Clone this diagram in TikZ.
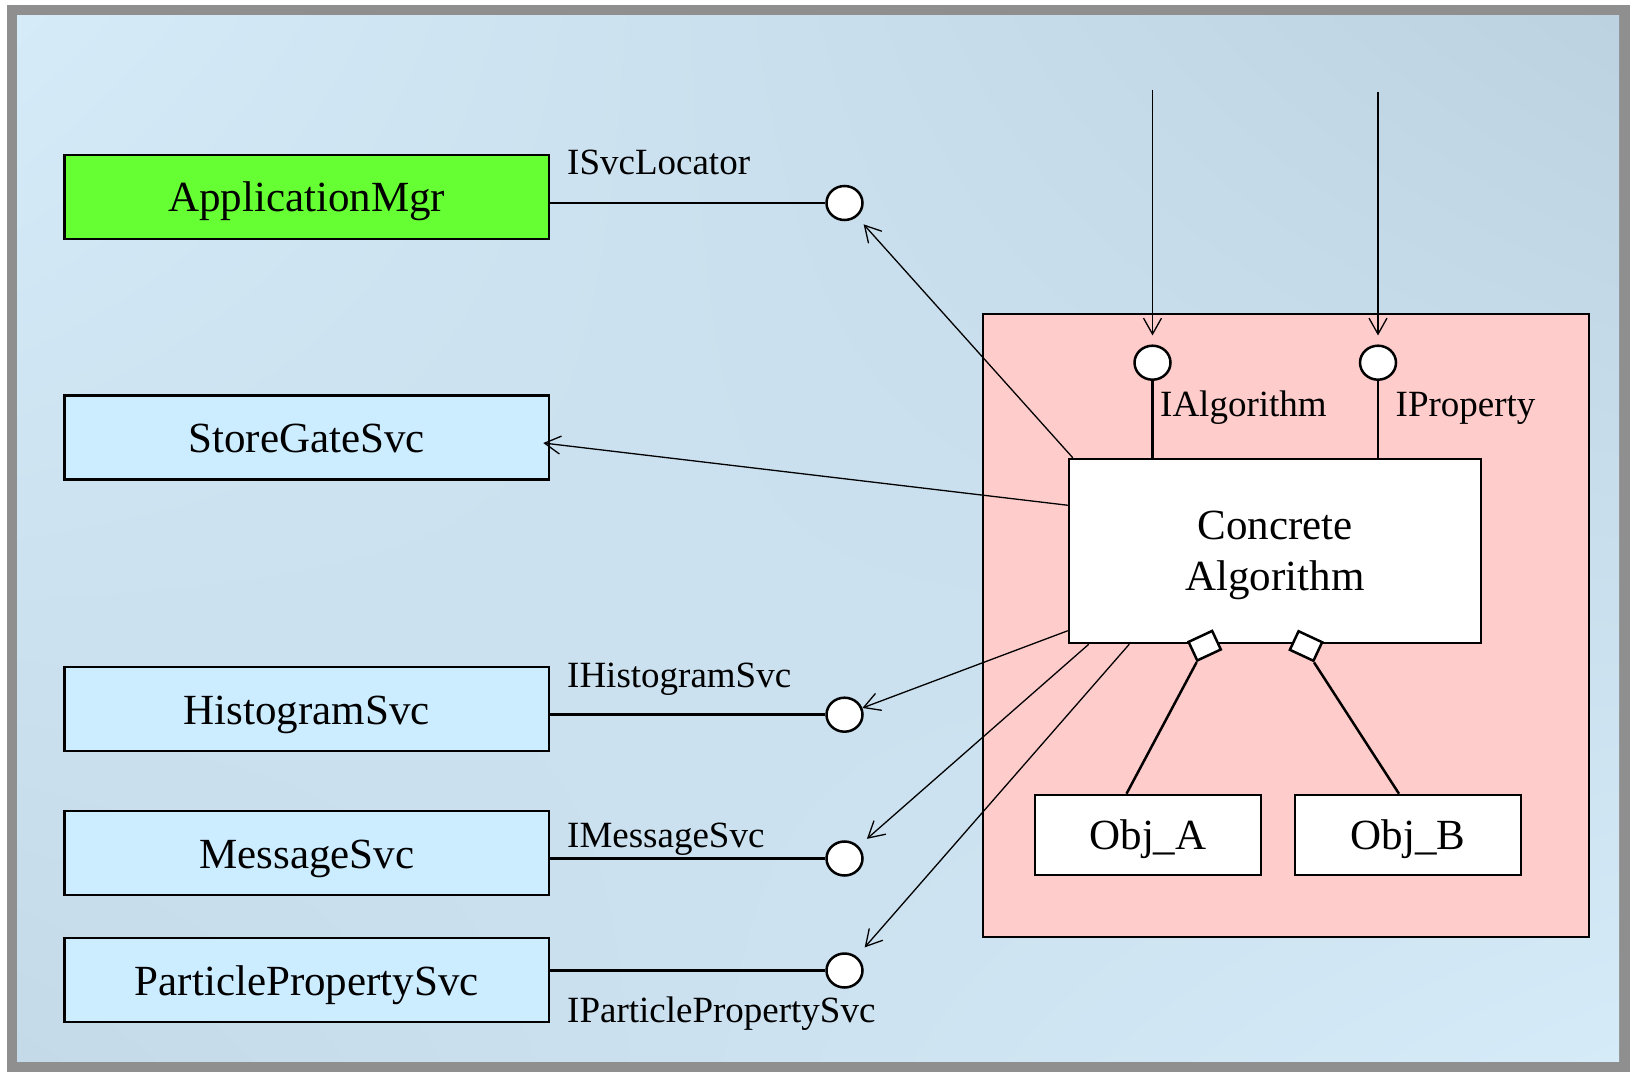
\documentclass[tikz,border=0pt]{standalone}
\usepackage{fontspec}
\setmainfont{Liberation Serif}
\usetikzlibrary{arrows.meta,shapes.geometric,shadings}
\definecolor{frameGray}{HTML}{8F8F8F}
\definecolor{bgLight}{HTML}{D5EBF8}
\definecolor{bgDark}{HTML}{BCD2E1}
\definecolor{bgMid}{HTML}{C4DAE9}
\definecolor{mgrGreen}{HTML}{66FF33}
\definecolor{svcBlue}{HTML}{CCECFF}
\definecolor{algPink}{HTML}{FFCCCC}

\tikzset{
  bigfont/.style={font=\fontsize{43pt}{51pt}\selectfont},
  lblfont/.style={font=\fontsize{37pt}{44pt}\selectfont},
  svcbox/.style={draw, line width=2.5pt, fill=svcBlue, minimum width=484.5pt,
    minimum height=84pt, bigfont, text height=30pt, text depth=0pt, inner sep=0pt},
  objbox/.style={draw, line width=2.5pt, fill=white, minimum width=226pt,
    minimum height=80pt, bigfont, text height=28.5pt, text depth=0pt, inner sep=0pt},
  iface/.style={ellipse, draw, line width=2.5pt, fill=white, minimum width=36pt,
    minimum height=34pt, inner sep=0pt},
  aggr/.style={draw, line width=2.5pt, fill=white, minimum width=26pt,
    minimum height=20.5pt, inner sep=0pt},
  lbl/.style={lblfont, anchor=base west, inner sep=0pt},
  link/.style={line width=2.5pt},
  uses/.style={line width=1.3pt, -{Straight Barb[length=16pt,width=18pt]}},
}

\begin{document}
\begin{tikzpicture}[x=1pt, y=-1pt]
  \useasboundingbox (0,0) rectangle (1631,1075);
  %----- frame and background -----
  \fill[frameGray] (7,5) rectangle (1630,1072);
  \shade[upper left=bgLight, upper right=bgDark, lower left=bgMid, lower right=bgLight]
    (17,16) rectangle (1619,1061);

  %----- algorithm container -----
  \node[draw, line width=2pt, fill=algPink, minimum width=606pt, minimum height=623pt,
    inner sep=0pt] (algframe) at (1286,625.5) {};

  %----- services -----
  \node[svcbox, fill=mgrGreen] (appmgr)   at (306.75,197)   {ApplicationMgr};
  \node[svcbox]                (sgate)    at (306.75,437.5) {StoreGateSvc};
  \node[svcbox]                (histsvc)  at (306.75,709)   {HistogramSvc};
  \node[svcbox]                (msgsvc)   at (306.75,853)   {MessageSvc};
  \node[svcbox]                (partsvc)  at (306.75,980)   {ParticlePropertySvc};

  %----- interfaces of the services -----
  \node[iface] (isvc)  at (844.5,203)   {};
  \node[iface] (ihist) at (844.5,714.7) {};
  \node[iface] (imsg)  at (844.5,858.5) {};
  \node[iface] (ipart) at (844.5,970.5) {};
  \node[lbl] (lsvc)  at (567,175)  {ISvcLocator};
  \node[lbl] (lhist) at (567,687)  {IHistogramSvc};
  \node[lbl] (lmsg)  at (567,847)  {IMessageSvc};
  \node[lbl] (lpart) at (567,1022) {IParticlePropertySvc};
  \draw[link] (appmgr.east |- isvc)  -- (isvc);
  \draw[link] (histsvc.east |- ihist) -- (ihist);
  \draw[link] (msgsvc.east |- imsg)  -- (imsg);
  \draw[link] (partsvc.east |- ipart) -- (ipart);

  %----- concrete algorithm -----
  \node[draw, line width=2.5pt, fill=white, minimum width=412pt, minimum height=184pt,
    bigfont, align=center, text depth=-5pt] (conc) at (1275,551) {Concrete\\Algorithm};
  \node[iface] (ialg)  at (1152.5,362.7) {};
  \node[iface] (iprop) at (1378,362.7)   {};
  \node[lbl] (lalg)  at (1160,416.5)   {IAlgorithm};
  \node[lbl] (lprop) at (1395.5,416.5) {IProperty};
  \draw[link] (ialg)  -- (ialg |- conc.north);
  \draw[link] (iprop) -- (iprop |- conc.north);
  \coordinate (algin)  at (1152.5,90);
  \coordinate (propin) at (1378,92);
  \draw[uses, shorten >=9pt] (algin)  -- (ialg);
  \draw[uses, shorten >=9pt] (propin) -- (iprop);

  %----- owned objects -----
  \node[objbox] (obja) at (1148,835) {Obj\_A};
  \node[objbox] (objb) at (1408,835) {Obj\_B};
  \node[aggr, rotate=25]  (agga) at (1204.7,645.7) {};
  \node[aggr, rotate=-25] (aggb) at (1306,646)     {};
  \draw[link] (agga.south west) -- ([xshift=-21.5pt]obja.north);
  \draw[link] (aggb.south east) -- ([xshift=-9pt]objb.north);

  %----- uses of the services -----
  \draw[uses, shorten >=10pt] ([xshift=5pt]conc.north west) -- (isvc);
  \draw[uses] ([yshift=-47.5pt]conc.north west) -- ([xshift=-7pt, yshift=-5.5pt]sgate.east);
  \draw[uses] ([yshift=13.5pt]conc.south west) -- (ihist);
  \draw[uses, shorten >=11pt] ([xshift=21pt]conc.south west) -- (imsg);
  \draw[uses, shorten >=12pt] ([xshift=61.5pt]conc.south west) -- (ipart);
\end{tikzpicture}
\end{document}
